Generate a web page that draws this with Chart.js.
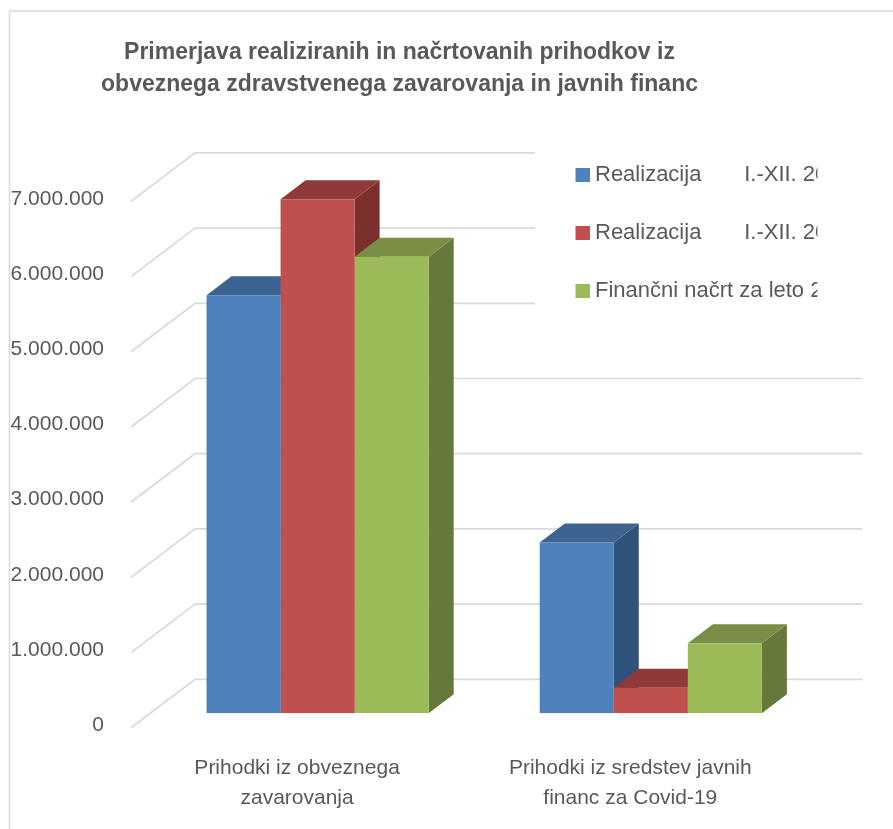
<!DOCTYPE html>
<html>
<head>
<meta charset="utf-8">
<style>html,body{margin:0;padding:0;background:#fff}canvas{display:block}</style>
<script src="https://cdn.jsdelivr.net/npm/chart.js@4"></script>
</head>
<body>
<canvas id="c" width="893" height="829"></canvas>
<script>
const categories = [["Prihodki iz obveznega", "zavarovanja"], ["Prihodki iz sredstev javnih", "financ za Covid-19"]];
const realizacija2021 = [5560000, 2270000];
const realizacija2022 = [6835000, 340000];
const nacrt2022 = [6070000, 930000];
const seriesNames = ["Realizacija       I.-XII. 2021", "Realizacija       I.-XII. 2022", "Finančni načrt za leto 2022"];
const titleLines = ["Primerjava realiziranih in načrtovanih prihodkov iz", "obveznega zdravstvenega zavarovanja in javnih financ"];
const frontColors = ["#4F81BD", "#C0504D", "#9BBB59"];
const topColors = ["#3D6391", "#8F3A38", "#788F45"];
const sideColors = ["#30537C", "#7C302E", "#65793A"];
const textColor = "#595959";
const gridColor = "#D9D9D9";
const fontFamily = "'Liberation Sans', Arial, sans-serif";

function swatch(color) {
  const cv = document.createElement("canvas");
  cv.width = 20; cv.height = 14;
  const g = cv.getContext("2d");
  g.fillStyle = color;
  g.fillRect(6, 0, 14, 14);
  return cv;
}

const scene3d = {
  id: "scene3d",
  beforeDraw(chart) {
    const ctx = chart.ctx;
    ctx.save();
    ctx.strokeStyle = gridColor;
    ctx.lineWidth = 1.5;
    ctx.beginPath();
    ctx.moveTo(9.5, 829); ctx.lineTo(9.5, 11); ctx.lineTo(893, 11);
    ctx.stroke();
    ctx.restore();
  },
  afterLayout(chart) {
    // centre the title over its original position and place the legend in the free corner
    chart.titleBlock.left = 0;
    chart.titleBlock.right = 799;
    chart.legend.left = 575 - chart.options.plugins.legend.labels.padding;
    chart.legend.top = 164 - chart.options.plugins.legend.labels.padding;
  },
  beforeDatasetsDraw(chart) {
    const ctx = chart.ctx, y = chart.scales.y;
    const backDy = -34, wallX = 195, wallEnd = 862.5, sideDx = 64, sideDy = 48.5;
    ctx.save();
    ctx.strokeStyle = gridColor;
    ctx.lineWidth = 1.7;
    y.ticks.forEach(t => {
      const py = y.getPixelForValue(t.value) + backDy;
      ctx.beginPath();
      ctx.moveTo(wallX - sideDx, py + sideDy);
      ctx.lineTo(wallX, py);
      ctx.lineTo(py < 340 ? 535 : wallEnd, py);
      ctx.stroke();
    });
    const dx = 25, dy = 19;
    const groups = chart.data.labels.length;
    for (let g = 0; g < groups; g++) {
      chart.data.datasets.forEach((ds, s) => {
        const b = chart.getDatasetMeta(s).data[g];
        const l = b.x - b.width / 2, r = b.x + b.width / 2, t = b.y, base = b.base;
        ctx.fillStyle = sideColors[s];
        ctx.beginPath();
        ctx.moveTo(r, t); ctx.lineTo(r + dx, t - dy); ctx.lineTo(r + dx, base - dy); ctx.lineTo(r, base);
        ctx.closePath(); ctx.fill();
        ctx.fillStyle = topColors[s];
        ctx.beginPath();
        ctx.moveTo(l, t); ctx.lineTo(l + dx, t - dy); ctx.lineTo(r + dx, t - dy); ctx.lineTo(r, t);
        ctx.closePath(); ctx.fill();
      });
    }
    ctx.restore();
  }
};

new Chart(document.getElementById("c"), {
  type: "bar",
  plugins: [scene3d],
  data: {
    labels: categories,
    datasets: [
      { label: seriesNames[0], data: realizacija2021, backgroundColor: frontColors[0] },
      { label: seriesNames[1], data: realizacija2022, backgroundColor: frontColors[1] },
      { label: seriesNames[2], data: nacrt2022, backgroundColor: frontColors[2] }
    ]
  },
  options: {
    responsive: false,
    animation: false,
    devicePixelRatio: 1,
    layout: { padding: { left: 0, right: 75.6, top: 0, bottom: 0 } },
    datasets: { bar: { categoryPercentage: 0.6667, barPercentage: 1 } },
    scales: {
      x: {
        grid: { display: false },
        border: { display: false },
        afterFit(s) { s.height = 115.7; },
        ticks: {
          color: textColor,
          font: { family: fontFamily, size: 21, lineHeight: 30 / 21 },
          padding: 32,
          labelOffset: -20.5,
          maxRotation: 0,
          minRotation: 0,
          autoSkip: false
        }
      },
      y: {
        min: 0,
        max: 7000000,
        grid: { display: false },
        border: { display: false },
        afterFit(s) { s.width = 151; },
        ticks: {
          stepSize: 1000000,
          color: textColor,
          font: { family: fontFamily, size: 21 },
          padding: 39,
          labelOffset: 12,
          callback: v => String(v).replace(/\B(?=(\d{3})+$)/g, ".")
        }
      }
    },
    plugins: {
      tooltip: { enabled: false },
      title: {
        display: true,
        text: titleLines,
        color: textColor,
        font: { family: fontFamily, size: 23, weight: "bold", lineHeight: 32 / 23 },
        padding: { top: 37, bottom: 85.9 }
      },
      legend: {
        position: "chartArea",
        align: "start",
        labels: {
          color: textColor,
          font: { family: fontFamily, size: 22 },
          usePointStyle: true,
          boxWidth: 9,
          boxHeight: 14,
          padding: 36,
          generateLabels(chart) {
            return chart.data.datasets.map((ds, i) => ({
              text: ds.label,
              fontColor: textColor,
              pointStyle: swatch(frontColors[i]),
              datasetIndex: i,
              hidden: false,
              lineWidth: 0
            }));
          }
        }
      }
    }
  }
});
</script>
</body>
</html>
